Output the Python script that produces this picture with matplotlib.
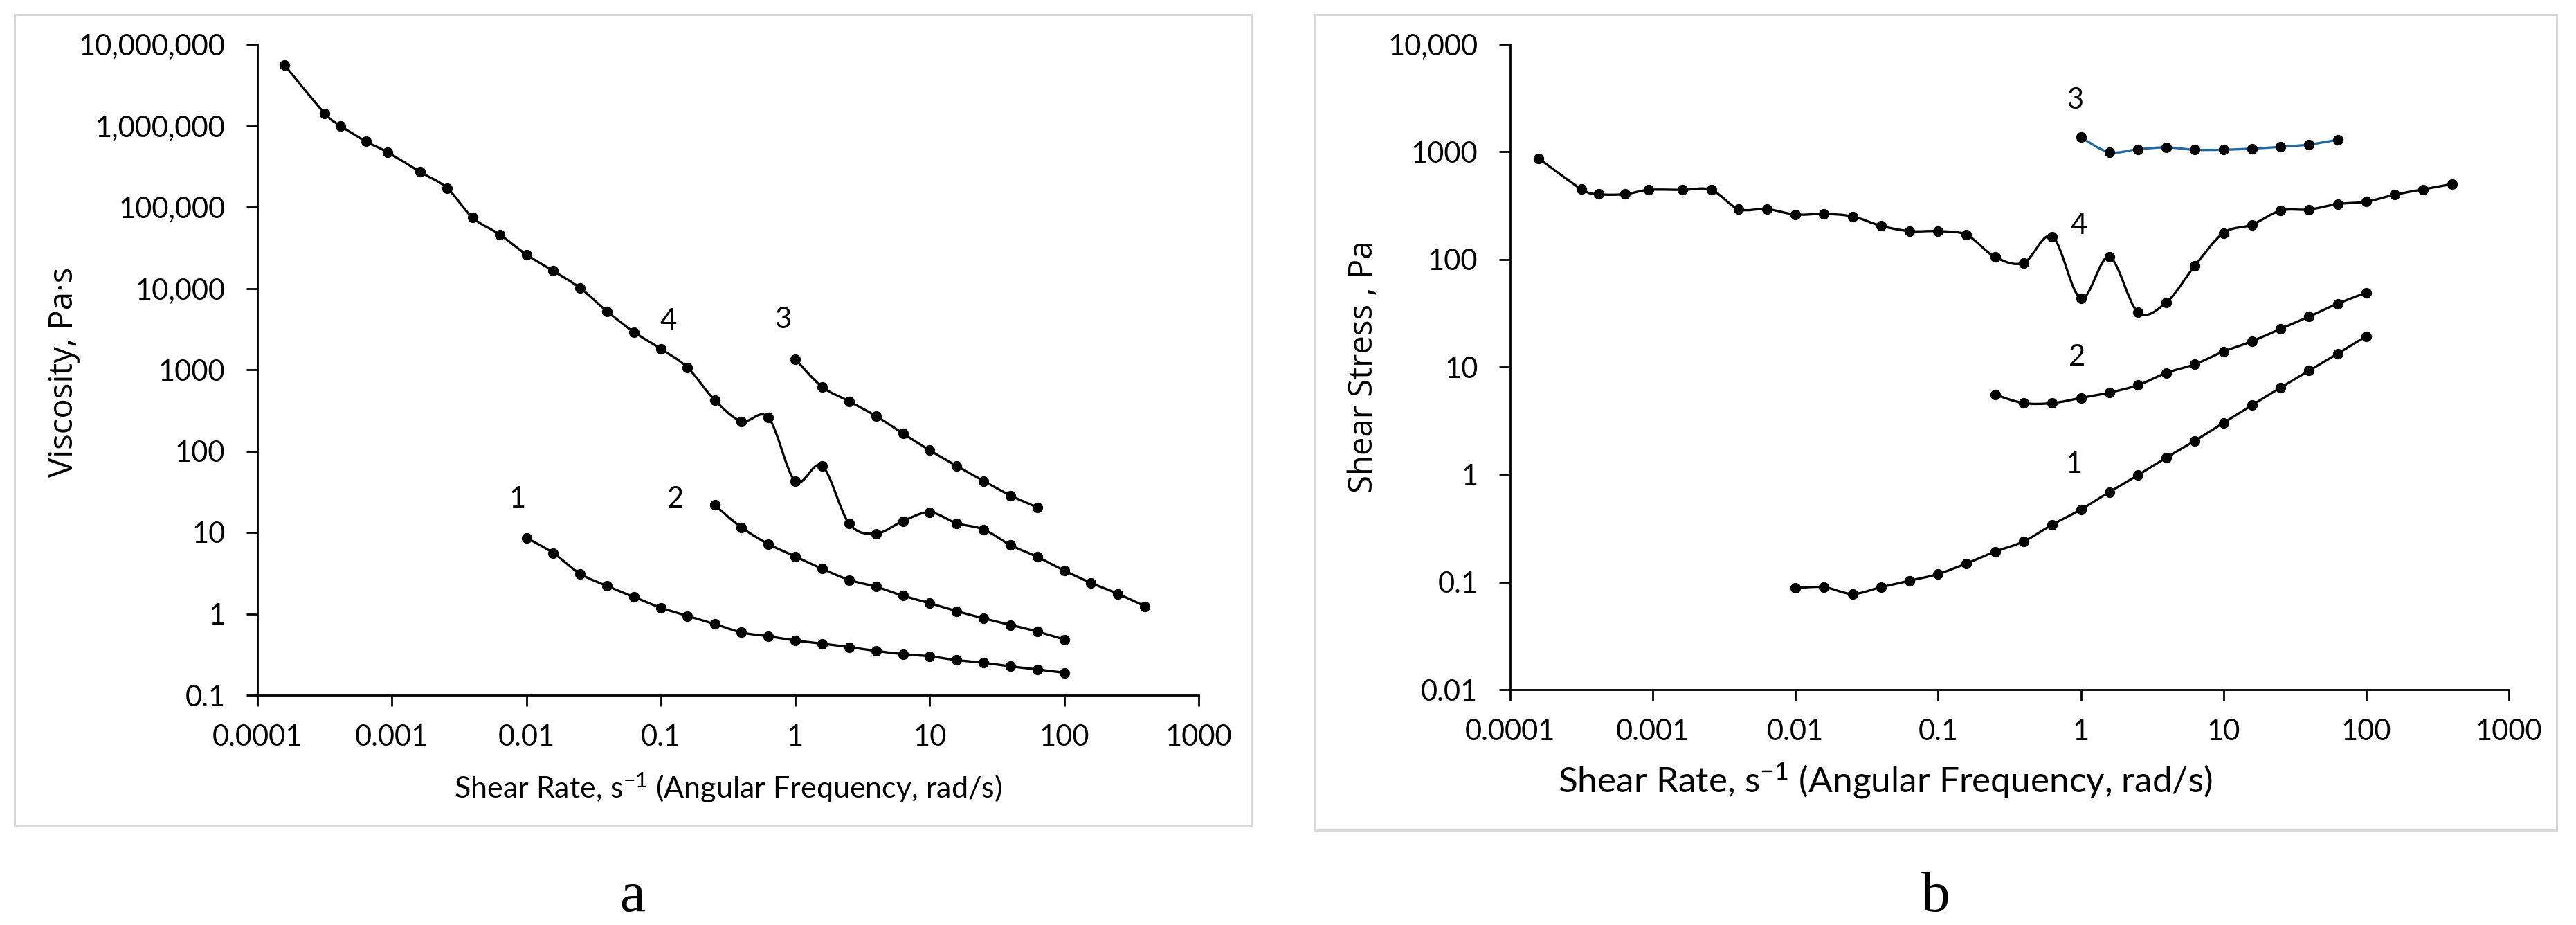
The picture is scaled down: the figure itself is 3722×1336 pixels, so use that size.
import numpy as np
import matplotlib
matplotlib.use("Agg")
import matplotlib.pyplot as plt
from matplotlib.path import Path
from matplotlib.patches import PathPatch, Rectangle
from matplotlib.ticker import FixedLocator, FixedFormatter, NullLocator

plt.rcParams['font.family'] = ['Lato', 'DejaVu Sans']
plt.rcParams['mathtext.fontset'] = 'custom'
plt.rcParams['mathtext.rm'] = 'Lato'
plt.rcParams['mathtext.it'] = 'Lato'

# ---------------- data ----------------
rate_1 = [0.01, 0.0158, 0.0251, 0.0398, 0.0631, 0.1, 0.158, 0.251, 0.398, 0.631,
          1, 1.58, 2.51, 3.98, 6.31, 10, 15.8, 25.1, 39.8, 63.1, 100]
rate_2 = [0.251, 0.398, 0.631, 1, 1.58, 2.51, 3.98, 6.31, 10, 15.8, 25.1, 39.8, 63.1, 100]
rate_3 = [1, 1.58, 2.51, 3.98, 6.31, 10, 15.8, 25.1, 39.8, 63.1]
rate_4 = [0.000158, 0.000316, 0.000417, 0.00064, 0.00093, 0.00162, 0.00257, 0.00398,
          0.00631, 0.01, 0.0158, 0.0251, 0.0398, 0.0631, 0.1, 0.158, 0.251, 0.398,
          0.631, 1, 1.58, 2.51, 3.98, 6.31, 10, 15.8, 25.1, 39.8, 63.1, 100, 158, 251, 398]

visc_1 = [8.6, 5.6, 3.1, 2.2, 1.61, 1.19, 0.94, 0.75, 0.59, 0.53, 0.47, 0.43, 0.39,
          0.35, 0.32, 0.30, 0.27, 0.25, 0.226, 0.207, 0.189]
visc_2 = [21.7, 11.5, 7.2, 5.07, 3.58, 2.61, 2.15, 1.67, 1.35, 1.08, 0.88, 0.73, 0.605, 0.483]
visc_3 = [1345, 617, 409, 269, 165, 102, 66, 43, 28.5, 20.3]
visc_4 = [5.6e6, 1.42e6, 9.9e5, 6.4e5, 4.7e5, 2.7e5, 1.71e5, 7.4e4, 4.6e4, 2.6e4,
          1.64e4, 1.01e4, 5.2e3, 2.9e3, 1.8e3, 1.06e3, 425, 232, 258, 42.7, 66, 12.9,
          9.7, 13.8, 17.7, 13.0, 10.9, 7.0, 5.0, 3.4, 2.4, 1.76, 1.24]

stress_1 = [0.088, 0.0897, 0.0776, 0.0897, 0.103, 0.119, 0.149, 0.192, 0.239, 0.342,
            0.473, 0.686, 0.986, 1.44, 2.06, 3.02, 4.4, 6.42, 9.23, 13.3, 19.3]
stress_2 = [5.51, 4.61, 4.61, 5.15, 5.77, 6.76, 8.81, 10.6, 13.9, 17.3, 22.6, 29.4, 38.8, 48.9]
stress_3 = [1362, 993, 1057, 1099, 1045, 1045, 1072, 1112, 1170, 1294]
stress_4 = [871, 450, 404, 404, 443, 443, 443, 294, 294, 261, 265, 251, 205, 183, 183,
            169, 105, 93, 163, 43.4, 105, 32.3, 39.9, 87.7, 176, 210, 284, 291, 327,
            344, 399, 448, 501]

x_ticks = [0.0001, 0.001, 0.01, 0.1, 1, 10, 100, 1000]
x_ticklabels = ['0.0001', '0.001', '0.01', '0.1', '1', '10', '100', '1000']
ya_ticks = [0.1, 1, 10, 100, 1000, 1e4, 1e5, 1e6, 1e7]
ya_ticklabels = ['0.1', '1', '10', '100', '1000', '10,000', '100,000', '1,000,000', '10,000,000']
yb_ticks = [0.01, 0.1, 1, 10, 100, 1000, 1e4]
yb_ticklabels = ['0.01', '0.1', '1', '10', '100', '1000', '10,000']

curve_names = ['1', '2', '3', '4']
# label anchor positions (data coords) for curve numbers
lab_a_x = [0.0086, 0.129, 0.81, 0.114]
lab_a_y = [25.8, 25.8, 4070, 3920]
lab_b_x = [0.90, 0.94, 0.91, 0.963]
lab_b_y = [1.23, 12.3, 3010, 206]

W, H = 3723, 1336
fig = plt.figure(figsize=(W / 100, H / 100), dpi=100)


def smooth_patch(x, y, color, lw):
    lx = np.log10(np.asarray(x, float))
    ly = np.log10(np.asarray(y, float))
    pts = np.column_stack([lx, ly])
    n = len(pts)
    verts = [pts[0]]
    codes = [Path.MOVETO]
    for i in range(n - 1):
        p0 = pts[max(i - 1, 0)]
        p1 = pts[i]
        p2 = pts[i + 1]
        p3 = pts[min(i + 2, n - 1)]
        c1 = p1 + (p2 - p0) / 6.0
        c2 = p2 - (p3 - p1) / 6.0
        verts += [c1, c2, p2]
        codes += [Path.CURVE4] * 3
    verts = 10 ** np.array(verts)
    return PathPatch(Path(verts, codes), facecolor='none', edgecolor=color,
                     lw=lw, capstyle='round', joinstyle='round', zorder=2)


def style_axes(ax, yticks, yticklabels, ylim):
    ax.set_xscale('log')
    ax.set_yscale('log')
    ax.set_xlim(1e-4, 1e3)
    ax.set_ylim(*ylim)
    ax.xaxis.set_major_locator(FixedLocator(x_ticks))
    ax.xaxis.set_major_formatter(FixedFormatter(x_ticklabels))
    ax.yaxis.set_major_locator(FixedLocator(yticks))
    ax.yaxis.set_major_formatter(FixedFormatter(yticklabels))
    ax.xaxis.set_minor_locator(NullLocator())
    ax.yaxis.set_minor_locator(NullLocator())
    for s in ['top', 'right']:
        ax.spines[s].set_visible(False)
    for s in ['left', 'bottom']:
        ax.spines[s].set_linewidth(2.0)
        ax.spines[s].set_color('black')
    ax.tick_params(axis='both', direction='out', length=11.5, width=2.0,
                   labelsize=30, colors='black')
    ax.tick_params(axis='x', pad=19)
    ax.tick_params(axis='y', pad=22)
    ax.patch.set_alpha(0)


def draw_series(ax, x, y, color):
    ax.add_patch(smooth_patch(x, y, color, 2.4))
    ax.plot(x, y, linestyle='none', marker='o', markersize=10,
            markerfacecolor='black', markeredgecolor='black', zorder=3)


# frames around the panels
fig.patches.append(Rectangle((21 / W, 1 - 1193 / H), (1808 - 21) / W, (1193 - 21) / H,
                             transform=fig.transFigure, fill=False,
                             edgecolor='#d9d9d9', lw=2.2, zorder=0))
fig.patches.append(Rectangle((1900 / W, 1 - 1199 / H), (3694 - 1900) / W, (1199 - 21) / H,
                             transform=fig.transFigure, fill=False,
                             edgecolor='#d9d9d9', lw=2.2, zorder=0))

# ---------------- panel a ----------------
axa = fig.add_axes([372 / W, 1 - 1004 / H, (1732 - 372) / W, (1004 - 64) / H])
style_axes(axa, ya_ticks, ya_ticklabels, (0.1, 1e7))
for xs, ys in [(rate_1, visc_1), (rate_2, visc_2), (rate_3, visc_3), (rate_4, visc_4)]:
    draw_series(axa, xs, ys, 'black')
for name, lx, ly in zip(curve_names, lab_a_x, lab_a_y):
    axa.text(lx, ly, name, fontsize=30, ha='center', va='center')

# ---------------- panel b ----------------
axb = fig.add_axes([2182 / W, 1 - 996 / H, (3625 - 2182) / W, (996 - 64) / H])
style_axes(axb, yb_ticks, yb_ticklabels, (0.01, 1e4))
for xs, ys, c in [(rate_1, stress_1, 'black'), (rate_2, stress_2, 'black'),
                  (rate_3, stress_3, '#1f6aa5'), (rate_4, stress_4, 'black')]:
    draw_series(axb, xs, ys, c)
for name, lx, ly in zip(curve_names, lab_b_x, lab_b_y):
    axb.text(lx, ly, name, fontsize=30, ha='center', va='center')

# axis titles
fig.text(92 / W, 1 - 537 / H, 'Viscosity, Pa\u00b7s', rotation=90, fontsize=34,
         family=['Open Sans', 'DejaVu Sans'], ha='center', va='center')
fig.text(1970 / W, 1 - 530 / H, 'Shear Stress , Pa', rotation=90, fontsize=34,
         family=['Open Sans', 'DejaVu Sans'], ha='center', va='center')
fig.text(1052 / W, 1 - 1138 / H, 'Shear Rate, s$^{-1}$ (Angular Frequency, rad/s)',
         fontsize=31, ha='center', va='center')
fig.text(2724 / W, 1 - 1128 / H, 'Shear Rate, s$^{-1}$ (Angular Frequency, rad/s)',
         fontsize=37, ha='center', va='center')

# panel letters
fig.text(914 / W, 1 - 1316 / H, 'a', fontsize=60,
         family=['Liberation Serif', 'DejaVu Serif'], ha='center', va='baseline')
fig.text(2797 / W, 1 - 1316 / H, 'b', fontsize=60,
         family=['Liberation Serif', 'DejaVu Serif'], ha='center', va='baseline')

fig.savefig('out.png', dpi=100, facecolor='white')
